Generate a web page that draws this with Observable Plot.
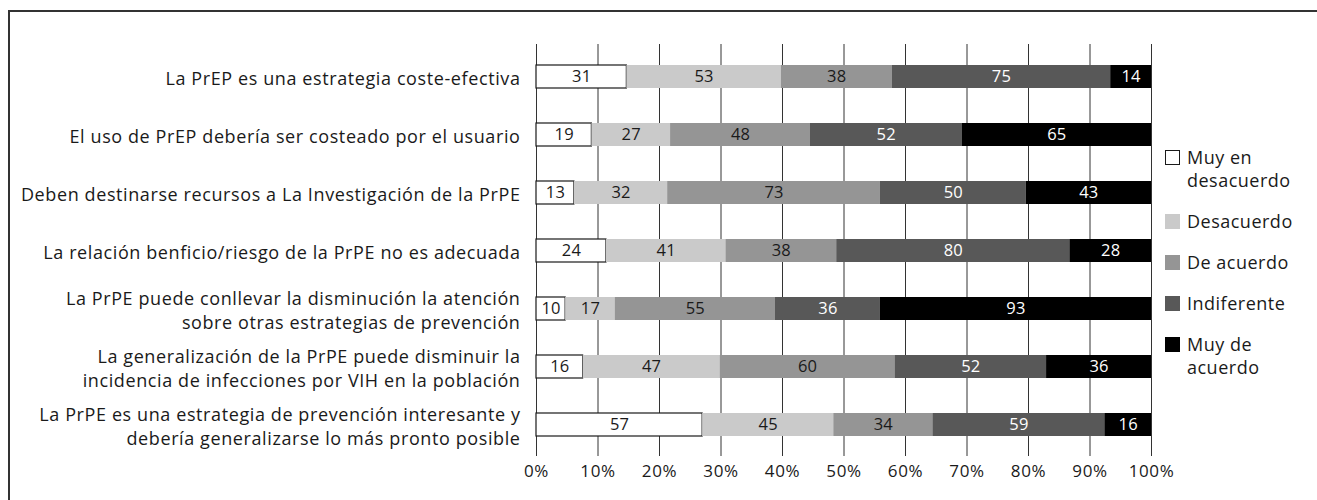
<!DOCTYPE html>
<html><head><meta charset="utf-8">
<script src="https://cdn.jsdelivr.net/npm/d3@7"></script>
<script src="https://cdn.jsdelivr.net/npm/@observablehq/plot@0.6"></script>
<style>
html,body{margin:0;padding:0;width:1317px;height:500px;overflow:hidden;background:#fff;font-family:"Open Sans",sans-serif;color:#1a1a1a;}
#hline{position:absolute;left:8px;top:10px;width:1309px;height:2px;background:#333;}
#vline{position:absolute;left:8px;top:10px;width:2px;height:490px;background:#333;}
#chart{position:absolute;left:10px;top:12px;}
#chart svg text{letter-spacing:0.6px;}
#chart svg g.bartext text{letter-spacing:0.2px;}
#legend{position:absolute;left:1165px;top:146px;font-size:18px;line-height:23px;letter-spacing:0.5px;}
.item{display:flex;align-items:flex-start;margin-bottom:18px;}
.sw{width:15px;height:15px;box-sizing:border-box;margin-top:4px;margin-right:7px;flex:none;}
</style></head><body>
<div id="hline"></div><div id="vline"></div>
<div id="chart"></div>
<div id="legend"></div>
<script>
const statements = [
  "La PrEP es una estrategia coste-efectiva",
  "El uso de PrEP debería ser costeado por el usuario",
  "Deben destinarse recursos a La Investigación de la PrPE",
  "La relación benficio/riesgo de la PrPE no es adecuada",
  "La PrPE puede conllevar la disminución la atención\nsobre otras estrategias de prevención",
  "La generalización de la PrPE puede disminuir la\nincidencia de infecciones por VIH en la población",
  "La PrPE es una estrategia de prevención interesante y\ndebería generalizarse lo más pronto posible"
];
const categories = ["Muy en desacuerdo", "Desacuerdo", "De acuerdo", "Indiferente", "Muy de acuerdo"];
const legendLabels = ["Muy en<br>desacuerdo", "Desacuerdo", "De acuerdo", "Indiferente", "Muy de<br>acuerdo"];
const muyEnDesacuerdo = [31, 19, 13, 24, 10, 16, 57];
const desacuerdo      = [53, 27, 32, 41, 17, 47, 45];
const deAcuerdo       = [38, 48, 73, 38, 55, 60, 34];
const indiferente     = [75, 52, 50, 80, 36, 52, 59];
const muyDeAcuerdo    = [14, 65, 43, 28, 93, 36, 16];
const xTicks = [0, 0.1, 0.2, 0.3, 0.4, 0.5, 0.6, 0.7, 0.8, 0.9, 1];

const colors = ["#ffffff", "#cacaca", "#959595", "#585858", "#000000"];
const textColors = ["#1a1a1a", "#1a1a1a", "#1a1a1a", "#ffffff", "#ffffff"];
const series = [muyEnDesacuerdo, desacuerdo, deAcuerdo, indiferente, muyDeAcuerdo];

const data = [];
statements.forEach((q, i) => {
  categories.forEach((c, j) => {
    data.push({q, cat: c, value: series[j][i], fill: colors[j], tfill: textColors[j], stroke: j === 0 ? "#1a1a1a" : "none"});
  });
});

const W = 1200, H = 488;
const chart = Plot.plot({
  width: W, height: H,
  marginLeft: 526, marginRight: W - 1141, marginTop: 32, marginBottom: 44,
  style: {fontFamily: "Open Sans", fontSize: "16px", color: "#1a1a1a", background: "transparent"},
  x: {domain: [0, 1]},
  y: {domain: statements, paddingInner: 0.61, paddingOuter: 0.3},
  color: {type: "identity"},
  marks: [
    Plot.gridX(xTicks, {stroke: "#333", strokeOpacity: 1, strokeWidth: 1}),
    Plot.barX(data, Plot.stackX({x: "value", y: "q", z: "cat", order: categories, offset: "normalize", fill: "fill", stroke: "stroke", strokeWidth: 1.2})),
    Plot.text(data, Plot.stackX({x: "value", y: "q", z: "cat", order: categories, offset: "normalize", text: d => String(d.value), fill: "tfill", fontSize: 16.5, className: "bartext"})),
    Plot.axisX({ticks: xTicks, tickFormat: d => Math.round(d * 100) + "%", tickSize: 0, tickPadding: 8, fontSize: 17, label: null, anchor: "bottom"}),
    Plot.axisY({tickSize: 0, tickPadding: 16, fontSize: 18, lineHeight: 1.33, label: null})
  ]
});
document.getElementById("chart").appendChild(chart);

const legend = document.getElementById("legend");
categories.forEach((c, j) => {
  const item = document.createElement("div");
  item.className = "item";
  const sw = document.createElement("div");
  sw.className = "sw";
  sw.style.background = colors[j];
  if (j === 0) sw.style.border = "1px solid #1a1a1a";
  const lab = document.createElement("div");
  lab.innerHTML = legendLabels[j];
  item.appendChild(sw); item.appendChild(lab);
  legend.appendChild(item);
});
</script>
</body></html>
